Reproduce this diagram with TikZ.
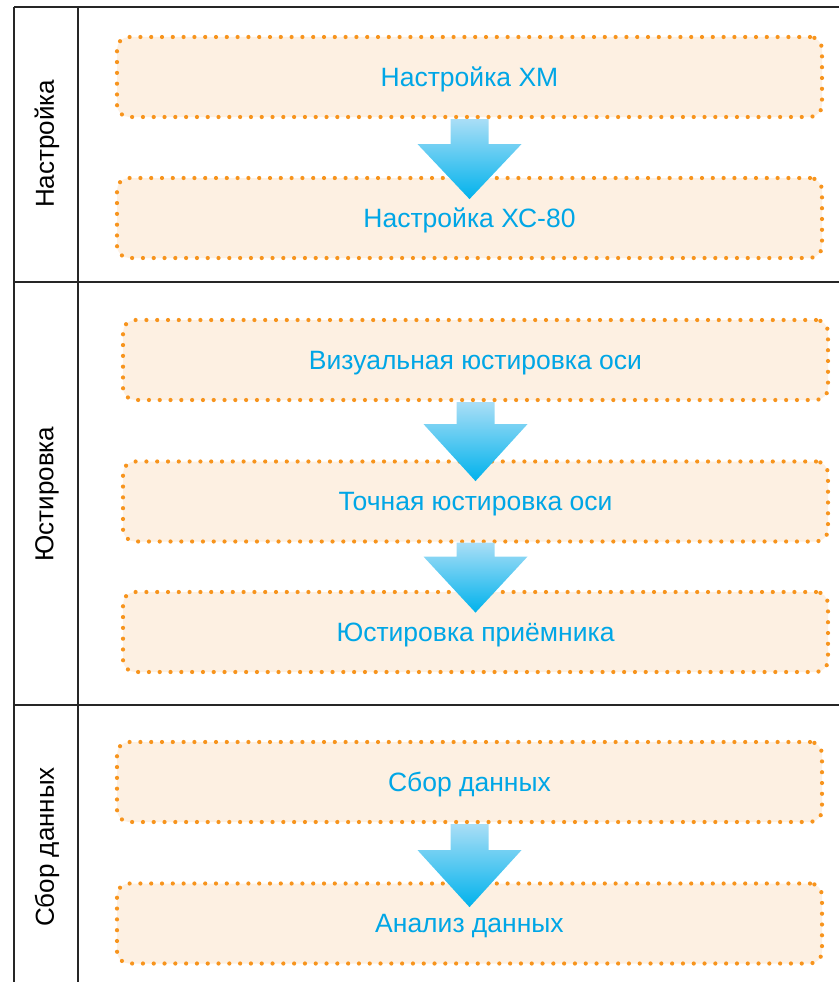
\documentclass[tikz,border=0pt]{standalone}
\usepackage{fontspec}
\setmainfont{Liberation Sans}
\definecolor{dotor}{HTML}{F7941D}
\definecolor{boxfill}{HTML}{FDF0E2}
\definecolor{txtblue}{HTML}{00A6E6}
\definecolor{arrtop}{HTML}{A9DEF6}
\definecolor{arrbot}{HTML}{00B2EC}
\definecolor{lanel}{HTML}{262626}
\tikzset{
  stepbox/.style={rectangle, rounded corners=12pt, minimum width=705pt, minimum height=80pt,
    fill=boxfill, draw=dotor, line width=4.2pt, line cap=round, dash pattern=on 0pt off 10.8pt,
    text=txtblue, font=\fontsize{26.5}{30}\selectfont, inner sep=0pt, text height=21pt, text depth=3pt},
  lanelabel/.style={rotate=90, font=\fontsize{26}{30}\selectfont, text=black, inner sep=0pt},
  laneline/.style={draw=lanel, line width=2.4pt},
  arrowfill/.style={top color=arrtop, bottom color=arrbot, draw=none}
}
\begin{document}
\begin{tikzpicture}[x=1pt,y=-1pt]
\useasboundingbox (0,0) rectangle (839,982);
% lane lines
\draw[laneline] (14,7) -- (839,7);
\draw[laneline] (14,282) -- (839,282);
\draw[laneline] (14,705) -- (839,705);
\draw[laneline] (14,7) -- (14,982);
\draw[laneline] (78,7) -- (78,982);
% lane labels
\node[lanelabel] (l1) at (47,144) {Настройка};
\node[lanelabel] (l2) at (47,494) {Юстировка};
\node[lanelabel] (l3) at (47,847) {Сбор данных};
% boxes
\node[stepbox] (b1) at (469.5,77) {Настройка ХМ};
\node[stepbox] (b2) at (469.5,218) {Настройка ХС-80};
\node[stepbox] (b3) at (475.5,360) {Визуальная юстировка оси};
\node[stepbox] (b4) at (475.5,501.5) {Точная юстировка оси};
\node[stepbox] (b5) at (475.5,632) {Юстировка приёмника};
\node[stepbox] (b6) at (469.5,782) {Сбор данных};
\node[stepbox] (b7) at (469.5,923.5) {Анализ данных};
% arrows
\shade[arrowfill] (b1.south) ++(-19,0) -- ++(0,25) -- ++(-33,0) -- ++(52,55) -- ++(52,-55) -- ++(-33,0) -- ++(0,-25) -- cycle;
\shade[arrowfill] (b3.south) ++(-19,0) -- ++(0,22) -- ++(-33,0) -- ++(52,57) -- ++(52,-57) -- ++(-33,0) -- ++(0,-22) -- cycle;
\shade[arrowfill] (b4.south) ++(-19,-1) -- ++(0,14) -- ++(-33,0) -- ++(52,56) -- ++(52,-56) -- ++(-33,0) -- ++(0,-14) -- cycle;
\shade[arrowfill] (b6.south) ++(-19,0) -- ++(0,26) -- ++(-33,0) -- ++(52,57) -- ++(52,-57) -- ++(-33,0) -- ++(0,-26) -- cycle;
\end{tikzpicture}
\end{document}
